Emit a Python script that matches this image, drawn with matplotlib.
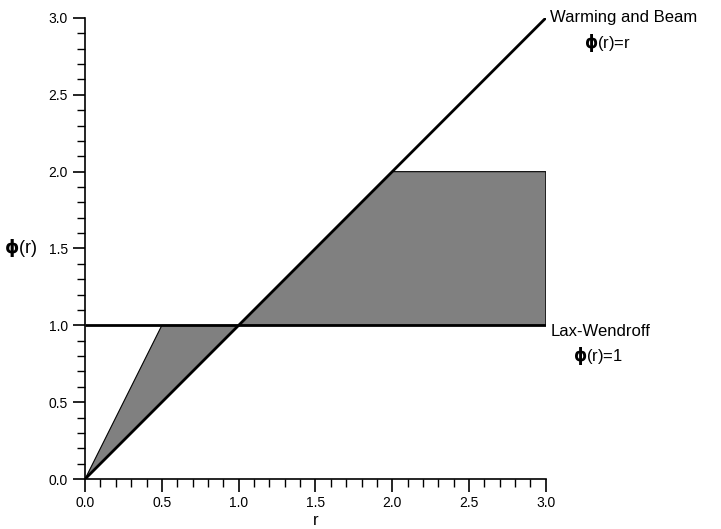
import matplotlib
matplotlib.use("Agg")
import matplotlib.pyplot as plt
from matplotlib.ticker import MultipleLocator

plt.rcParams['font.family'] = ['Liberation Sans', 'DejaVu Sans']
plt.rcParams['mathtext.fontset'] = 'custom'
plt.rcParams['mathtext.rm'] = 'DejaVu Sans'
plt.rcParams['mathtext.it'] = 'DejaVu Sans:bold'
plt.rcParams['mathtext.bf'] = 'DejaVu Sans:bold'

# Limiter reference lines
r_line = [0.0, 3.0]
phi_wb = [0.0, 3.0]      # Warming and Beam: phi(r) = r
phi_lw = [1.0, 1.0]      # Lax-Wendroff: phi(r) = 1

# Second-order TVD region boundaries
region1_r = [0.0, 0.5, 1.0]
region1_phi = [0.0, 1.0, 1.0]
region2_r = [1.0, 2.0, 3.0, 3.0]
region2_phi = [1.0, 2.0, 2.0, 1.0]

PHI = r'$\phi$'

fig = plt.figure(figsize=(7.21, 5.29), dpi=100)
ax = fig.add_axes([0.118, 0.0945, 0.639, 0.8715])

ax.fill(region1_r, region1_phi, facecolor='#808080', edgecolor='black', linewidth=0.8)
ax.fill(region2_r, region2_phi, facecolor='#808080', edgecolor='black', linewidth=0.8)
ax.plot(r_line, phi_wb, color='black', linewidth=2.0, solid_capstyle='butt')
ax.plot(r_line, phi_lw, color='black', linewidth=2.0, solid_capstyle='butt')

ax.set_xlim(0, 3)
ax.set_ylim(0, 3)
for s in ['top', 'right']:
    ax.spines[s].set_visible(False)
for s in ['left', 'bottom']:
    ax.spines[s].set_linewidth(1.2)

ax.xaxis.set_major_locator(MultipleLocator(0.5))
ax.xaxis.set_minor_locator(MultipleLocator(0.1))
ax.yaxis.set_major_locator(MultipleLocator(0.5))
ax.yaxis.set_minor_locator(MultipleLocator(0.1))
ax.xaxis.set_major_formatter(plt.FormatStrFormatter('%.1f'))
ax.yaxis.set_major_formatter(plt.FormatStrFormatter('%.1f'))
ax.tick_params(which='major', direction='out', length=9, width=1.2, labelsize=10)
ax.tick_params(which='minor', direction='out', length=6, width=1.0)

ax.set_xlabel('r', fontsize=12, labelpad=2)
ax.set_ylabel(PHI + '(r)', fontsize=13, rotation=0, ha='center', va='center')
ax.yaxis.set_label_coords(-0.14, 0.5)

ax.text(3.03, 3.0, 'Warming and Beam', fontsize=12, ha='left', va='center', clip_on=False)
ax.text(3.25, 2.84, PHI + '(r)=r', fontsize=12, ha='left', va='center', clip_on=False)
ax.text(3.03, 0.96, 'Lax-Wendroff', fontsize=12, ha='left', va='center', clip_on=False)
ax.text(3.18, 0.80, PHI + '(r)=1', fontsize=12, ha='left', va='center', clip_on=False)

fig.savefig('out.png', dpi=100)
